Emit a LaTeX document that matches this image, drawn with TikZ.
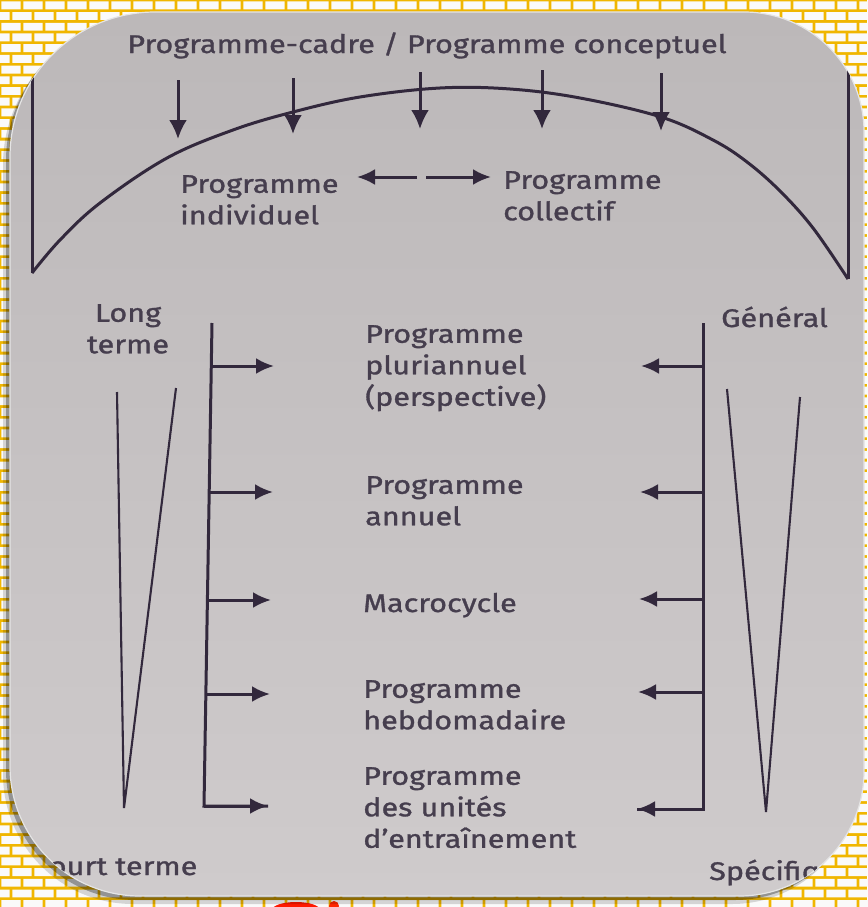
\documentclass[tikz,border=0pt]{standalone}
\usepackage{fontspec}
\newfontfamily\labelfont{Fira Sans}[FakeStretch=1.2, FakeBold=1.2]
\usetikzlibrary{arrows.meta}

\definecolor{ink}{RGB}{70,62,78}
\definecolor{lineink}{RGB}{50,40,60}
\definecolor{mortar}{RGB}{240,182,0}
\definecolor{paperTop}{RGB}{188,184,185}
\definecolor{paperBot}{RGB}{207,203,204}
\definecolor{brick}{RGB}{250,250,250}

% outline of the photographed page (rounded corners of different radii)
\newcommand\pageoutline{(10,157) .. controls (10,76.9) and (74.9,12) .. (155,12)
  -- (744,12) .. controls (810.3,12) and (864,65.7) .. (864,132)
  -- (864,771) .. controls (864,840) and (808,896) .. (739,896)
  -- (140,896) .. controls (68.2,896) and (10,837.8) .. (10,766) -- cycle}

\tikzset{
  lbl/.style={font=\labelfont\fontsize{25.5}{31.5}\selectfont, text=ink, inner sep=0pt, align=left},
  edge/.style={draw=lineink, line width=3pt},
  thinedge/.style={draw=lineink, line width=2.1pt, line join=miter},
  headR/.style={-{Latex[length=18pt 0 0,width=16pt 0 0]}},
  bigheadR/.style={-{Latex[length=19pt 0 0,width=18pt 0 0]}},
}

\begin{document}
\begin{tikzpicture}[x=1pt,y=-1pt]
\useasboundingbox (0,0) rectangle (867,907);

% brick wall behind the page
\fill[mortar] (0,0) rectangle (867,907);
\fill[brick] \foreach \r in {0,...,85} { \foreach \c in {-1,...,40} {
  ({\c*22 + mod(\r,2)*11 + 1.4}, {\r*10.7 + 1.4}) rectangle ++(19.2, 7.9) } };

% red fragments peeking out below the page
\fill[red!80!orange] (296,910) ellipse [x radius=24, y radius=8];
\fill[red!70!orange] (334,906) circle [radius=5];

% soft shadow of the page
\fill[black, opacity=0.15, shift={(-7,8)}] \pageoutline;
\fill[black, opacity=0.30, shift={(-4,4)}] \pageoutline;

% the page
\shade[top color=paperTop, bottom color=paperBot] \pageoutline;
\draw[white!80!gray, line width=1.2pt] \pageoutline;

\begin{scope}
\clip \pageoutline;

% ---------- upper part ----------
\node[lbl, anchor=base] (title) at (427,53) {Programme-cadre / Programme conceptuel};

\coordinate (bowLtop) at (32,75);
\coordinate (bowL) at (32,273);
\coordinate (bowRtop) at (848,60);
\coordinate (bowR) at (848,279);
\draw[edge] (bowLtop) -- (bowL);
\draw[edge] (bowRtop) -- (bowR);
\draw[edge] plot[smooth, tension=0.6] coordinates {(bowL) (60,240) (100,203) (167,158) (233,130)
  (293,112) (360,97) (440,88) (510,89) (580,98) (661,117)
  (713,140) (747,162) (780,191) (813,228) (bowR)};

% arrows coming down from the framework
\foreach \x/\a/\b [count=\i] in {178/80/139, 293/78/134, 420/72/129, 542/70/129, 661/73/131} {
  \coordinate (down\i a) at (\x,\a);
  \coordinate (down\i b) at (\x,\b);
  \draw[edge, bigheadR] (down\i a) -- (down\i b);
}

\node[lbl, anchor=north west] (indiv) at (180,175) {Programme\\individuel};
\node[lbl, anchor=north west] (coll) at (503,171) {Programme\\collectif};

\coordinate (dL) at (357,177);
\coordinate (dM1) at (417,177);
\coordinate (dM2) at (426,177);
\coordinate (dR) at (491,177);
\draw[edge, headR] (dM1) -- (dL);
\draw[edge, headR] (dM2) -- (dR);

% ---------- lower part ----------
\node[lbl, anchor=north, align=center] (long) at (128,304) {Long\\terme};
\node[lbl, anchor=base west] (gen) at (721,327) {Général};
\node[lbl, anchor=base west] (court) at (32,875) {Court terme};
\node[lbl, anchor=base west] (spec) at (709,880) {Spécifique};

% narrowing wedges
\coordinate (wLa) at (117,392);
\coordinate (wLt) at (124,808);
\coordinate (wLb) at (176,388);
\draw[thinedge] (wLa) -- (wLt) -- (wLb);
\coordinate (wRa) at (727,389);
\coordinate (wRt) at (766,812);
\coordinate (wRb) at (800,397);
\draw[thinedge] (wRa) -- (wRt) -- (wRb);

% program levels
\node[lbl, anchor=north west] (plur) at (365,325) {Programme\\pluriannuel\\(perspective)};
\node[lbl, anchor=north west] (annu) at (365,476) {Programme\\annuel};
\node[lbl, anchor=base west] (macro) at (363,612) {Macrocycle};
\node[lbl, anchor=north west] (hebdo) at (363,680) {Programme\\hebdomadaire};
\node[lbl, anchor=north west] (unit) at (363,767) {Programme\\des unités\\d’entraînement};

% left bracket with arrows pointing right
\coordinate (lbTop) at (212,323);
\coordinate (lbBot) at (204,806);
\coordinate (lbEnd) at (268,806);
\draw[edge, line join=miter] (lbTop) -- (lbBot) -- (lbEnd);
\draw[edge, headR] (lbBot) -- (lbEnd);
\foreach \y/\sx/\ex [count=\i] in {366/211.3/274, 492/209.2/273, 600/207.4/271, 694/205.9/270} {
  \coordinate (lbs\i) at (\sx,\y);
  \coordinate (lbe\i) at (\ex,\y);
  \draw[edge, headR] (lbs\i) -- (lbe\i);
}

% right bracket with arrows pointing left
\coordinate (rbTop) at (703,323);
\coordinate (rbBot) at (703,809);
\coordinate (rbEnd) at (637,809);
\draw[edge, line join=miter] (rbTop) -- (rbBot) -- (rbEnd);
\draw[edge, headR] (rbBot) -- (rbEnd);
\foreach \y/\ex [count=\i] in {366/641, 492/640, 599/639, 692/638} {
  \coordinate (rbs\i) at (703,\y);
  \coordinate (rbe\i) at (\ex,\y);
  \draw[edge, headR] (rbs\i) -- (rbe\i);
}
\end{scope}
\end{tikzpicture}
\end{document}
